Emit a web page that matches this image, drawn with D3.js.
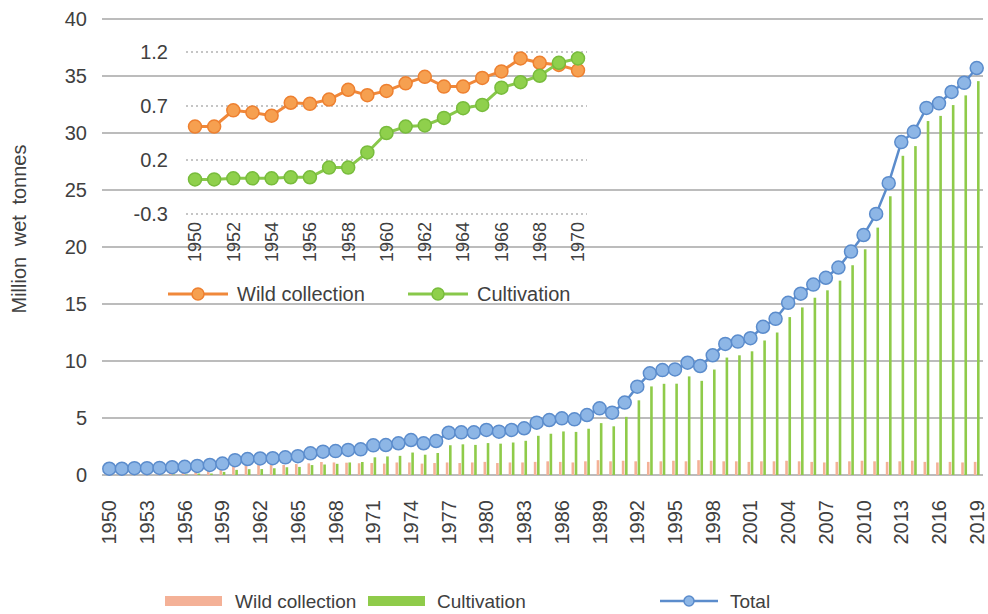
<!DOCTYPE html>
<html>
<head>
<meta charset="utf-8">
<script src="https://cdn.jsdelivr.net/npm/d3@7"></script>
<style>
  body { margin: 0; background: #fff; }
  svg text { font-family: "Liberation Sans", Arial, sans-serif; fill: #404040; }
</style>
</head>
<body>
<svg width="988" height="614"></svg>
<script>
// main chart data (million wet tonnes)
const years = d3.range(1950, 2020);
const wild = [0.51, 0.51, 0.66, 0.64, 0.61, 0.73, 0.72, 0.76, 0.85, 0.80,
  0.84, 0.91, 0.97, 0.88, 0.88, 0.96, 1.02, 1.14, 1.10, 1.08,
  1.03, 1.05, 1.00, 1.10, 1.10, 1.00, 1.05, 1.10, 1.05, 1.10,
  1.15, 1.05, 1.10, 1.10, 1.15, 1.20, 1.15, 1.10, 1.20, 1.30,
  1.20, 1.25, 1.20, 1.15, 1.20, 1.25, 1.20, 1.30, 1.25, 1.20,
  1.20, 1.15, 1.20, 1.20, 1.25, 1.20, 1.15, 1.10, 1.15, 1.20,
  1.25, 1.20, 1.15, 1.20, 1.25, 1.15, 1.10, 1.15, 1.10, 1.15];
const cultivation = [0.02, 0.02, 0.03, 0.03, 0.03, 0.04, 0.04, 0.13, 0.13, 0.27,
  0.45, 0.51, 0.52, 0.59, 0.68, 0.71, 0.87, 0.92, 0.98, 1.10,
  1.14, 1.55, 1.63, 1.68, 1.97, 1.78, 1.93, 2.61, 2.69, 2.64,
  2.80, 2.75, 2.85, 3.00, 3.44, 3.62, 3.82, 3.78, 4.06, 4.55,
  4.27, 5.10, 6.55, 7.77, 8.00, 8.01, 8.65, 8.26, 9.25, 10.3,
  10.5, 10.85, 11.8, 12.5, 13.85, 14.7, 15.55, 16.2, 17.05, 18.4,
  19.8, 21.7, 24.45, 28.0, 28.85, 31.05, 31.5, 32.45, 33.3, 34.55];
const total = [0.55, 0.55, 0.6, 0.6, 0.62, 0.68, 0.72, 0.8, 0.88, 1.0,
  1.3, 1.4, 1.45, 1.47, 1.55, 1.65, 1.9, 2.05, 2.1, 2.2,
  2.25, 2.6, 2.63, 2.78, 3.07, 2.78, 2.98, 3.71, 3.74, 3.74,
  3.95, 3.8, 3.95, 4.1, 4.59, 4.82, 4.97, 4.88, 5.26, 5.85,
  5.47, 6.35, 7.75, 8.92, 9.2, 9.26, 9.85, 9.56, 10.5, 11.5,
  11.7, 12.0, 13.0, 13.7, 15.1, 15.9, 16.7, 17.3, 18.2, 19.6,
  21.05, 22.9, 25.6, 29.2, 30.1, 32.2, 32.6, 33.6, 34.4, 35.7];
const yTicks = [0, 5, 10, 15, 20, 25, 30, 35, 40];

// inset data (1950-1970)
const insetYears = d3.range(1950, 1971);
const insetWild = wild.slice(0, 21);
const insetCult = cultivation.slice(0, 21);
const insetTicks = [-0.3, 0.2, 0.7, 1.2];

const svg = d3.select("svg");
const font = 20;

const x = d3.scaleBand().domain(years).range([103, 983]);
const y = d3.scaleLinear().domain([0, 40]).range([475, 19]);
const cx = d => x(d) + x.bandwidth() / 2;

// gridlines
svg.append("g").selectAll("line").data(yTicks).enter().append("line")
  .attr("x1", 102).attr("x2", 983)
  .attr("y1", d => y(d)).attr("y2", d => y(d))
  .attr("stroke", "#a6a6a6").attr("stroke-width", 1.5);

// y labels
svg.append("g").selectAll("text").data(yTicks).enter().append("text")
  .attr("x", 87).attr("y", d => y(d)).attr("dy", "0.35em")
  .attr("text-anchor", "end").style("font-size", font + "px")
  .text(d => d);

svg.append("text")
  .attr("transform", "translate(26,229) rotate(-90)")
  .attr("text-anchor", "middle").style("font-size", "20px")
  .style("word-spacing", "5px")
  .text("Million  wet tonnes");

// x labels every 3 years
svg.append("g").selectAll("text").data(years.filter((d, i) => i % 3 === 0)).enter().append("text")
  .attr("transform", d => `translate(${cx(d)},500) rotate(-90)`)
  .attr("dy", "0.35em").attr("text-anchor", "end")
  .style("font-size", font + "px")
  .text(d => d);

// bars
const bw = 2.6;
svg.append("g").selectAll("rect").data(years).enter().append("rect")
  .attr("x", d => cx(d) - bw - 0.3).attr("width", bw)
  .attr("y", (d, i) => y(wild[i])).attr("height", (d, i) => y(0) - y(wild[i]))
  .attr("fill", "#f4b197");
svg.append("g").selectAll("rect").data(years).enter().append("rect")
  .attr("x", d => cx(d) + 0.3).attr("width", bw)
  .attr("y", (d, i) => y(cultivation[i])).attr("height", (d, i) => y(0) - y(cultivation[i]))
  .attr("fill", "#8fcb4a");

// total line
const totalLine = d3.line().x((d, i) => cx(years[i])).y(d => y(d));
svg.append("path").datum(total)
  .attr("d", totalLine).attr("fill", "none")
  .attr("stroke", "#5b8ccc").attr("stroke-width", 2.5);
svg.append("g").selectAll("circle").data(total).enter().append("circle")
  .attr("cx", (d, i) => cx(years[i])).attr("cy", d => y(d)).attr("r", 6.5)
  .attr("fill", "#8db6e6").attr("stroke", "#5b8ccc").attr("stroke-width", 1.5);

// inset chart
const ix = d3.scalePoint().domain(insetYears).range([195, 578]);
const iy = d3.scaleLinear().domain([-0.3, 1.2]).range([214, 52]);
const inset = svg.append("g");

inset.append("g").selectAll("line").data(insetTicks).enter().append("line")
  .attr("x1", 186).attr("x2", 587)
  .attr("y1", d => iy(d)).attr("y2", d => iy(d))
  .attr("stroke", "#8c8c8c").attr("stroke-width", 1.2)
  .attr("stroke-dasharray", "2,3");

inset.append("g").selectAll("text").data(insetTicks).enter().append("text")
  .attr("x", 168).attr("y", d => iy(d)).attr("dy", "0.35em")
  .attr("text-anchor", "end").style("font-size", font + "px")
  .text(d => d);

inset.append("g").selectAll("text").data(insetYears.filter((d, i) => i % 2 === 0)).enter().append("text")
  .attr("transform", d => `translate(${ix(d)},222) rotate(-90)`)
  .attr("dy", "0.35em").attr("text-anchor", "end")
  .style("font-size", "18px")
  .text(d => d);

const insetSeries = [
  { name: "Wild collection", values: insetWild, line: "#f0883a", fill: "#f6a050", stroke: "#ee8030", lx: 168 },
  { name: "Cultivation", values: insetCult, line: "#88c84a", fill: "#8fd04c", stroke: "#78bc3c", lx: 408 }
];
const iLine = d3.line().x((d, i) => ix(insetYears[i])).y(d => iy(d));
insetSeries.forEach(s => {
  inset.append("path").datum(s.values)
    .attr("d", iLine).attr("fill", "none")
    .attr("stroke", s.line).attr("stroke-width", 3);
  inset.append("g").selectAll("circle").data(s.values).enter().append("circle")
    .attr("cx", (d, i) => ix(insetYears[i])).attr("cy", d => iy(d)).attr("r", 6.5)
    .attr("fill", s.fill).attr("stroke", s.stroke).attr("stroke-width", 1.5);
  // inset legend
  inset.append("line").attr("x1", s.lx).attr("x2", s.lx + 60)
    .attr("y1", 294).attr("y2", 294)
    .attr("stroke", s.line).attr("stroke-width", 3);
  inset.append("circle").attr("cx", s.lx + 30).attr("cy", 294).attr("r", 6)
    .attr("fill", s.fill).attr("stroke", s.stroke).attr("stroke-width", 1.5);
  inset.append("text").attr("x", s.lx + 69).attr("y", 294).attr("dy", "0.35em")
    .style("font-size", font + "px").text(s.name);
});

// bottom legend
const lg = svg.append("g");
lg.append("rect").attr("x", 165).attr("y", 596).attr("width", 57).attr("height", 10).attr("fill", "#f4b197");
lg.append("text").attr("x", 235).attr("y", 601).attr("dy", "0.35em").style("font-size", "19px").text("Wild collection");
lg.append("rect").attr("x", 368).attr("y", 596).attr("width", 57).attr("height", 10).attr("fill", "#8fcb4a");
lg.append("text").attr("x", 437).attr("y", 601).attr("dy", "0.35em").style("font-size", "19px").text("Cultivation");
lg.append("line").attr("x1", 660).attr("x2", 718).attr("y1", 601).attr("y2", 601)
  .attr("stroke", "#5b8ccc").attr("stroke-width", 2.5);
lg.append("circle").attr("cx", 689).attr("cy", 601).attr("r", 5)
  .attr("fill", "#8db6e6").attr("stroke", "#5b8ccc").attr("stroke-width", 1.5);
lg.append("text").attr("x", 730).attr("y", 601).attr("dy", "0.35em").style("font-size", "19px").text("Total");
</script>
</body>
</html>
